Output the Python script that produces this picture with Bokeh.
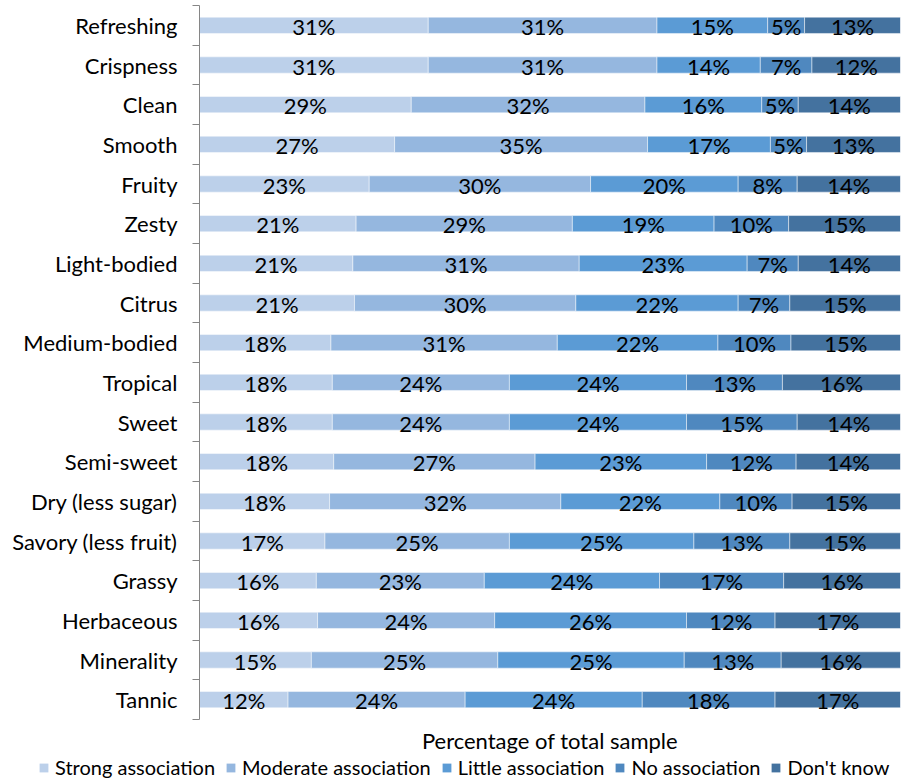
from bokeh.plotting import figure
from bokeh.layouts import column
from bokeh.models import ColumnDataSource, FixedTicker, Legend, LegendItem, Range1d
from bokeh.embed import file_html
from bokeh.resources import INLINE
from bokeh.core.properties import value

categories = ["Refreshing", "Crispness", "Clean", "Smooth", "Fruity", "Zesty",
              "Light-bodied", "Citrus", "Medium-bodied", "Tropical", "Sweet",
              "Semi-sweet", "Dry (less sugar)", "Savory (less fruit)", "Grassy",
              "Herbaceous", "Minerality", "Tannic"]
strong    = [31, 31, 29, 27, 23, 21, 21, 21, 18, 18, 18, 18, 18, 17, 16, 16, 15, 12]
moderate  = [31, 31, 32, 35, 30, 29, 31, 30, 31, 24, 24, 27, 32, 25, 23, 24, 25, 24]
little    = [15, 14, 16, 17, 20, 19, 23, 22, 22, 24, 24, 23, 22, 25, 24, 26, 25, 24]
no_assoc  = [5, 7, 5, 5, 8, 10, 7, 7, 10, 13, 15, 12, 10, 13, 17, 12, 13, 18]
dont_know = [13, 12, 14, 13, 14, 15, 14, 15, 15, 16, 14, 14, 15, 15, 16, 17, 16, 17]

series_names = ["Strong association", "Moderate association", "Little association",
                "No association", "Don't know"]
colors = ["#BCD0EA", "#95B7DF", "#5B9BD5", "#4F88BF", "#44729F"]
x_title = "Percentage of total sample"

FONT = "Lato"
series = [strong, moderate, little, no_assoc, dont_know]
n = len(categories)
ypos = [n - 0.5 - i for i in range(n)]
totals = [sum(vals) for vals in zip(*series)]

p = figure(width=901, height=756, output_backend="svg", toolbar_location=None,
           x_range=Range1d(0, 1), y_range=Range1d(0, n),
           min_border_left=199, min_border_right=1, min_border_top=5,
           min_border_bottom=34)
p.outline_line_color = None
p.grid.visible = False
p.frame_align = False

# separate strip for the legend (spans the full width, like the original)
leg = figure(width=901, height=22, output_backend="svg", toolbar_location=None,
             x_range=Range1d(-10, -9), y_range=Range1d(0, n),
             x_axis_location=None, y_axis_location=None,
             min_border_left=0, min_border_right=0, min_border_top=0,
             min_border_bottom=0)
leg.outline_line_color = None
leg.grid.visible = False
leg.frame_align = False

cum = [0.0] * n
items = []
for name, vals, col in zip(series_names, series, colors):
    left = cum[:]
    right = [c + v / t for c, v, t in zip(cum, vals, totals)]
    cum = right
    src = ColumnDataSource(dict(
        y=ypos, left=left, right=right,
        mid=[(a + b) / 2 for a, b in zip(left, right)],
        lab=[f"{v}%" for v in vals]))
    p.hbar(y="y", left="left", right="right", height=0.41, source=src,
           fill_color=col, line_color="white", line_width=0.8, line_alpha=0.6)
    p.text(x="mid", y="y", text="lab", source=src, text_font=value(FONT),
           text_font_size="22px", text_align="center", text_baseline="middle",
           text_color="black", y_offset=1)
    lr = leg.hbar(y="y", left="left", right="right", height=0.41, source=src,
                  fill_color=col, line_color=None)
    items.append(LegendItem(label=name, renderers=[lr]))

# y axis: labels at centres, tick marks at category boundaries
yax = p.yaxis[0]
yax.ticker = FixedTicker(ticks=ypos, minor_ticks=list(range(n + 1)))
yax.major_label_overrides = {float(y): c for y, c in zip(ypos, categories)}
yax.major_tick_line_color = None
yax.major_tick_out = 0
yax.major_tick_in = 0
yax.minor_tick_out = 7
yax.minor_tick_in = 0
yax.minor_tick_line_color = "#868686"
yax.axis_line_color = "#868686"
yax.major_label_standoff = 15
yax.major_label_text_font = FONT
yax.major_label_text_font_size = "22px"
yax.major_label_text_color = "black"

xax = p.xaxis[0]
xax.ticker = FixedTicker(ticks=[])
xax.axis_line_color = None
xax.major_tick_line_color = None
xax.minor_tick_line_color = None
xax.major_tick_out = 0
xax.axis_label = x_title
xax.axis_label_text_font = FONT
xax.axis_label_text_font_size = "22px"
xax.axis_label_text_font_style = "normal"
xax.axis_label_text_color = "black"
xax.axis_label_standoff = 7

legend = Legend(items=items, orientation="horizontal", location=(38, -1),
                glyph_width=11, glyph_height=11, label_standoff=6, spacing=10,
                label_text_font=FONT, label_text_font_size="20px",
                label_text_color="black", border_line_color=None,
                background_fill_alpha=0, padding=0, margin=0)
leg.add_layout(legend, "center")

layout = column(p, leg, spacing=0)
open("out.html", "w").write(file_html(layout, INLINE))
